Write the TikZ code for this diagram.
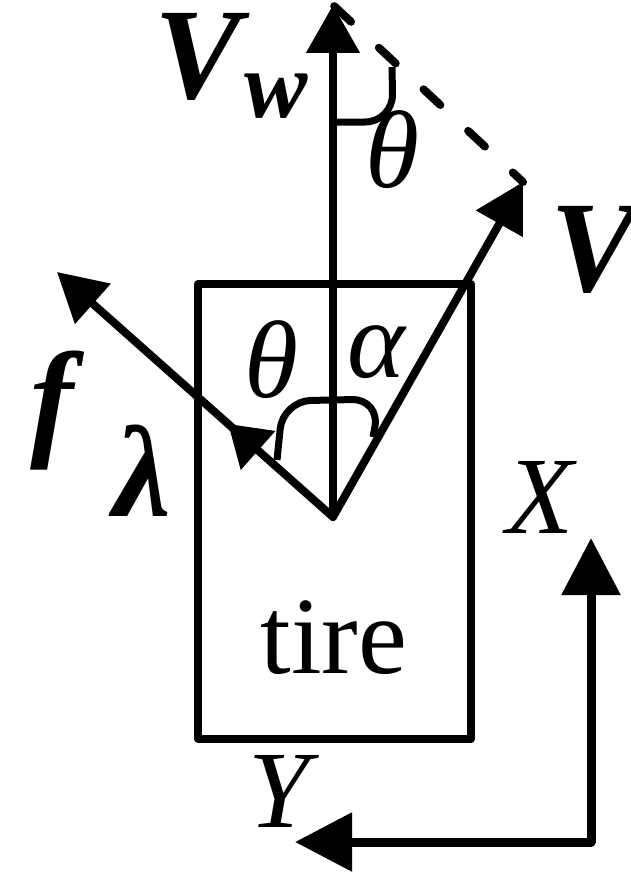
\documentclass[tikz,border=0pt]{standalone}
\usepackage{fontspec}
\setmainfont{Liberation Serif}
\usetikzlibrary{arrows.meta,decorations.markings}

\begin{document}
\begin{tikzpicture}[x=1pt, y=-1pt, line width=8pt,
  every node/.style={inner sep=0pt, font=\fontsize{110}{110}\selectfont},
  sym/.style={font=\fontsize{110}{110}\selectfont\itshape},
  bold/.style={font=\fontsize{130}{130}\selectfont\bfseries\itshape},
  vec/.style={-{Triangle[length=48pt,width=52pt]}, line cap=round},
  ang/.style={line width=7pt, rounded corners=28pt}]
  \useasboundingbox (0,0) rectangle (630,875);
  % Points
  \coordinate (O) at (333,517);
  \coordinate (vwtip) at (333,5);
  \coordinate (vtip) at (523,182);
  \coordinate (ftip) at (57,272);
  % Tire
  \draw[line join=round] (198,284) rectangle (471,739);
  \node (tire) at (334,638) {tire};
  % Vectors
  \draw[vec] (O) -- (vwtip);
  \draw[vec] (O) -- (vtip);
  \draw[vec, postaction={decorate, decoration={markings, mark=at position 0.38 with {\arrow{Triangle[length=40pt,width=50pt]}}}}] (O) -- (ftip);
  \draw[line cap=round, dash pattern=on 23pt off 38pt, dash phase=9pt] (vtip) -- (vwtip);
  % Angles
  \draw[ang] (277,460) -- (283,401) -- (380,399) -- (373,437);
  \draw[ang] (333,122) -- (393,122) -- (392,67);
  % Labels
  \node[bold, anchor=base west] (lblvw) at (150,98) {V\kern4pt\raisebox{-19pt}{\fontsize{95}{95}\selectfont w}};
  \node[sym] (thtop) at (393,150) {θ};
  \node[bold] (lblv) at (594,250) {V};
  \node[bold] (lblf) at (52,411) {f};
  \node[bold] (lbllambda) at (142,471) {λ};
  \node[sym] (thbot) at (272,360) {θ};
  \node[sym] (alpha) at (376,352) {α};
  % Axes
  \coordinate (corner) at (591,842);
  \coordinate (xtip) at (591,538);
  \coordinate (ytip) at (295,842);
  \draw[{Triangle[length=57pt,width=57pt]}-{Triangle[length=57pt,width=57pt]}, line width=9pt, line join=round] (xtip) -- (corner) -- (ytip);
  \node[sym] (lblx) at (540,497) {X};
  \node[sym] (lbly) at (279,791) {Y};
\end{tikzpicture}
\end{document}
